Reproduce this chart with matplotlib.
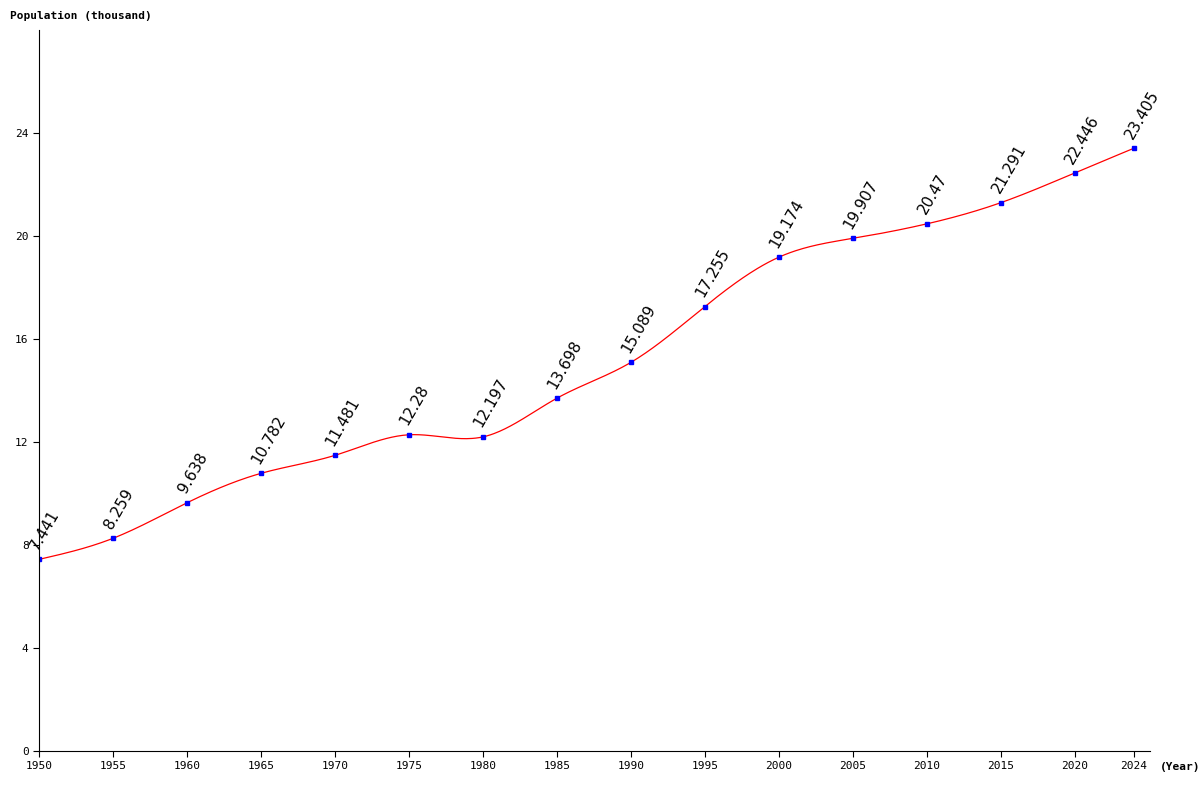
import numpy as np
import matplotlib
matplotlib.use("Agg")
import matplotlib.pyplot as plt

years = [1950,1955,1960,1965,1970,1975,1980,1985,1990,1995,2000,2005,2010,2015,2020,2024]
values = [7.441,8.259,9.638,10.782,11.481,12.28,12.197,13.698,15.089,17.255,19.174,19.907,20.47,21.291,22.446,23.405]
labels = ["7.441","8.259","9.638","10.782","11.481","12.28","12.197","13.698","15.089","17.255","19.174","19.907","20.47","21.291","22.446","23.405"]
xticks = years
yticks = [0,4,8,12,16,20,24]

def natural_spline(x, y, xs):
    x = np.asarray(x, float); y = np.asarray(y, float)
    n = len(x); h = np.diff(x)
    A = np.zeros((n, n)); b = np.zeros(n)
    A[0,0] = A[-1,-1] = 1
    for i in range(1, n-1):
        A[i,i-1] = h[i-1]; A[i,i] = 2*(h[i-1]+h[i]); A[i,i+1] = h[i]
        b[i] = 3*((y[i+1]-y[i])/h[i] - (y[i]-y[i-1])/h[i-1])
    c = np.linalg.solve(A, b)
    out = np.empty_like(xs)
    for k, xv in enumerate(xs):
        i = min(max(np.searchsorted(x, xv) - 1, 0), n-2)
        d = xv - x[i]
        bb = (y[i+1]-y[i])/h[i] - h[i]*(2*c[i]+c[i+1])/3
        dd = (c[i+1]-c[i])/(3*h[i])
        out[k] = y[i] + bb*d + c[i]*d*d + dd*d**3
    return out

fig = plt.figure(figsize=(12, 8), dpi=100)
ax = fig.add_axes([39/1200, 1-751/800, (1150-39)/1200, (751-30)/800])
xs = np.linspace(years[0], years[-1], 600)
ax.plot(xs, natural_spline(years, values, xs), color="red", lw=0.9)
ax.plot(years, values, "s", color="blue", ms=3.5)
for x, y, t in zip(years, values, labels):
    ax.annotate(t, (x, y), xytext=(1, 5), textcoords="offset points",
                rotation=60, fontsize=11, ha="left", va="bottom", rotation_mode="anchor")
ax.set_xlim(1950, 2025.1)
ax.set_ylim(0, 28)
ax.set_xticks(xticks)
ax.set_yticks(yticks)
ax.tick_params(labelsize=8, length=4)
for lab in ax.get_xticklabels() + ax.get_yticklabels():
    lab.set_family("DejaVu Sans Mono")
for s in ["top", "right"]:
    ax.spines[s].set_visible(False)
fig.text(10/1200, 1-16/800, "Population (thousand)", fontsize=8, fontweight="bold",
         family="DejaVu Sans Mono", va="center")
fig.text(1160/1200, 1-767/800, "(Year)", fontsize=8, fontweight="bold",
         family="DejaVu Sans Mono", va="center")
fig.savefig("out.png", dpi=100, facecolor="white")
